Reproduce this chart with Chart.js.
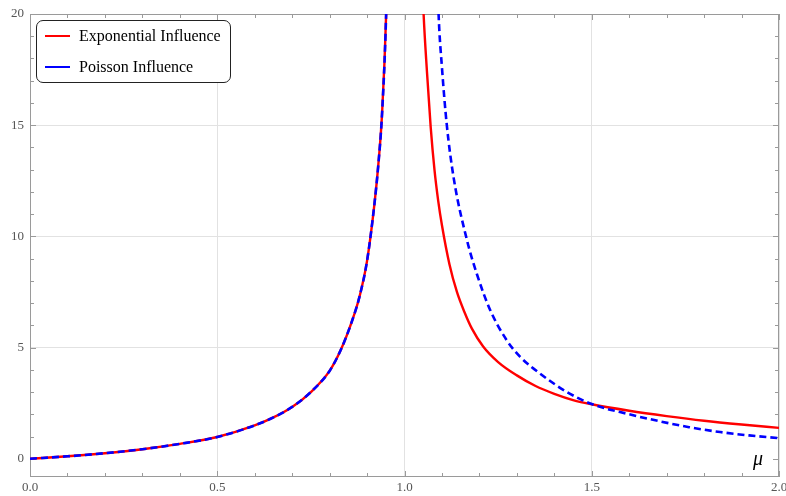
<!DOCTYPE html>
<html>
<head>
<meta charset="utf-8">
<script src="https://cdn.jsdelivr.net/npm/chart.js@4.4.1/dist/chart.umd.min.js"></script>
<style>
  html, body { margin: 0; padding: 0; background: #fff; }
  #wrap { position: relative; width: 786px; height: 496px; }
  #legend {
    position: absolute; left: 36px; top: 20px; width: 193px; height: 61px;
    border: 1px solid #222; border-radius: 7px; background: #fff;
    font-family: "Liberation Serif", serif; font-size: 16px; color: #000;
  }
  .row { position: absolute; left: 0; height: 20px; line-height: 20px; display: flex; align-items: center; white-space: nowrap; }
  .swatch { display: inline-block; width: 25px; height: 2px; margin: 0 9px 0 8px; }
  #mu {
    position: absolute; left: 753px; top: 448px; line-height: 1;
    font-family: "Liberation Serif", serif; font-style: italic; font-size: 20px;
  }
</style>
</head>
<body>
<div id="wrap">
  <canvas id="chart" width="786" height="496"></canvas>
  <div id="legend">
    <div class="row" style="top:5px"><span class="swatch" style="background:#ff0000"></span>Exponential Influence</div>
    <div class="row" style="top:36px"><span class="swatch" style="background:#0000ff"></span>Poisson Influence</div>
  </div>
  <span id="mu">μ</span>
</div>
<script>
// shared branch below the critical point (both models agree here)
const muLeft = [0, 0.1, 0.2, 0.3, 0.4, 0.5, 0.6, 0.65, 0.7, 0.75, 0.8, 0.83, 0.86, 0.88, 0.9, 0.92, 0.93, 0.94, 0.951, 0.956]
const influenceLeft = [0, 0.11, 0.25, 0.43, 0.67, 0.98, 1.5, 1.86, 2.33, 3.0, 3.95, 4.9, 6.2, 7.3, 8.9, 11.5, 13.2, 15.5, 20, 24]

// supercritical branches
const muExpRight = [1.045, 1.051, 1.06, 1.07, 1.08, 1.09, 1.10, 1.12, 1.14, 1.16, 1.18, 1.21, 1.25, 1.3, 1.35, 1.4, 1.45, 1.5, 1.6, 1.7, 1.8, 1.9, 2.0]
const expRight = [22.7, 20.0, 17.4, 14.9, 13.0, 11.6, 10.5, 8.75, 7.5, 6.6, 5.85, 5.05, 4.35, 3.75, 3.27, 2.92, 2.64, 2.45, 2.16, 1.92, 1.71, 1.54, 1.39]

const muPoisRight = [1.085, 1.091, 1.10, 1.113, 1.131, 1.167, 1.193, 1.229, 1.273, 1.309, 1.362, 1.433, 1.5, 1.6, 1.683, 1.76, 1.843, 1.92, 2.0]
const poisRight = [23.5, 20.0, 17.6, 15.0, 12.66, 9.82, 8.32, 6.68, 5.33, 4.58, 3.83, 3.01, 2.46, 2.0, 1.68, 1.42, 1.2, 1.05, 0.93]

const xTicks = [0, 0.5, 1, 1.5, 2]
const yTicks = [0, 5, 10, 15, 20]
const xMinorStep = 0.1
const yMinorStep = 1

const toPoints = (xs, ys) => xs.map((x, i) => ({ x, y: ys[i] }))
const branches = (rx, ry) => [
  ...toPoints(muLeft, influenceLeft),
  { x: 1, y: null },
  ...toPoints(rx, ry)
]

const labelFont = { family: "'Liberation Serif', serif", size: 13 }
const gridColor = (ctx) => (ctx.tick && ctx.tick.value === 0 ? "rgba(0,0,0,0)" : "#e2e2e2")

// Mathematica-style frame: border on all four sides, ticks pointing inward
const framePlugin = {
  id: "frame",
  beforeDatasetsDraw(chart) {
    const { ctx, chartArea: a, scales: { x, y } } = chart
    ctx.save()
    ctx.strokeStyle = "#9a9a9a"
    ctx.lineWidth = 1
    ctx.strokeRect(a.left + 0.5, a.top + 0.5, a.right - a.left - 1, a.bottom - a.top - 1)

    ctx.beginPath()
    for (let i = 0; i <= Math.round((x.max - x.min) / xMinorStep); i++) {
      const v = x.min + i * xMinorStep
      const px = Math.round(x.getPixelForValue(v)) + 0.5
      const len = xTicks.some(t => Math.abs(t - v) < 1e-6) ? 6 : 4
      ctx.moveTo(px, a.bottom); ctx.lineTo(px, a.bottom - len)
      ctx.moveTo(px, a.top); ctx.lineTo(px, a.top + len)
    }
    for (let v = 0; v <= y.max + 1e-6; v += yMinorStep) {
      const py = Math.round(y.getPixelForValue(v)) + 0.5
      const len = yTicks.includes(v) ? 6 : 4
      ctx.moveTo(a.left, py); ctx.lineTo(a.left + len, py)
      ctx.moveTo(a.right, py); ctx.lineTo(a.right - len, py)
    }
    ctx.stroke()
    ctx.restore()
  }
}

new Chart(document.getElementById("chart"), {
  type: "line",
  data: {
    datasets: [
      {
        label: "Exponential Influence",
        data: branches(muExpRight, expRight),
        borderColor: "#ff0000",
        borderWidth: 2.4,
        pointRadius: 0,
        spanGaps: false,
        cubicInterpolationMode: "monotone",
        order: 2
      },
      {
        label: "Poisson Influence",
        data: branches(muPoisRight, poisRight),
        borderColor: "#0000ff",
        borderWidth: 2.6,
        borderDash: [7, 4],
        pointRadius: 0,
        spanGaps: false,
        cubicInterpolationMode: "monotone",
        order: 1
      }
    ]
  },
  options: {
    responsive: false,
    animation: false,
    devicePixelRatio: 1,
    layout: { padding: { top: 14, right: 7, left: 0, bottom: 0 } },
    plugins: { legend: { display: false }, tooltip: { enabled: false } },
    scales: {
      x: {
        type: "linear",
        min: 0,
        max: 2,
        afterBuildTicks: (s) => { s.ticks = xTicks.map(value => ({ value })) },
        afterFit: (s) => { s.height = 19; s.paddingLeft = 0; s.paddingRight = 0 },
        ticks: { callback: (v) => Number(v).toFixed(1), color: "#555", font: labelFont, padding: 3, maxRotation: 0, autoSkip: false },
        grid: { color: gridColor, drawTicks: false },
        border: { display: false }
      },
      y: {
        type: "linear",
        min: -0.82,
        max: 20,
        afterBuildTicks: (s) => { s.ticks = yTicks.map(value => ({ value })) },
        afterFit: (s) => { s.width = 30; s.paddingTop = 0; s.paddingBottom = 0 },
        ticks: { callback: (v) => String(v), color: "#555", font: labelFont, padding: 6, autoSkip: false },
        grid: { color: gridColor, drawTicks: false },
        border: { display: false }
      }
    }
  },
  plugins: [framePlugin]
})
</script>
</body>
</html>
